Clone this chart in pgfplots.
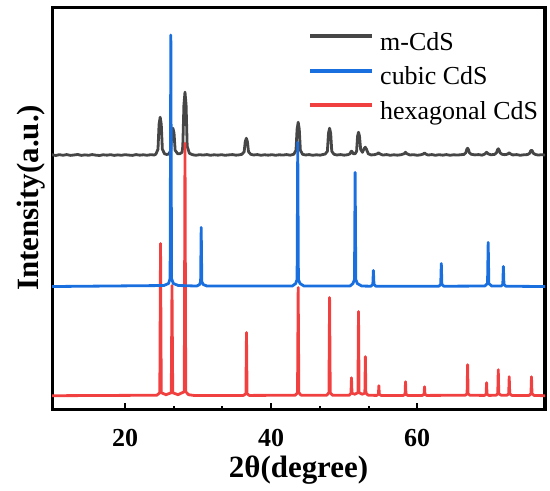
\documentclass[border=0pt]{standalone}
\usepackage{fontspec}
\setmainfont{Liberation Serif}
\usepackage{pgfplots}
\pgfplotsset{compat=1.18}
\definecolor{cgray}{RGB}{70,70,70}
\definecolor{cblue}{RGB}{26,111,223}
\definecolor{cred}{RGB}{241,64,64}
\begin{document}
\begin{tikzpicture}
\begin{axis}[
  name=ax,
  scale only axis,
  width=492bp, height=401.5bp,
  xmin=10, xmax=77.5, ymin=0, ymax=401.5,
  xtick={20,40,60},
  minor x tick num=2,
  ytick=\empty,
  xtick pos=bottom,
  tick align=inside,
  major tick length=7bp,
  minor tick length=3.5bp,
  every tick/.style={black, line width=2bp},
  axis line style={line width=3bp, black},
  /pgf/number format/assume math mode=true,
  xticklabel style={font=\fontsize{26}{26}\selectfont\bfseries, inner sep=0pt, anchor=north, yshift=-19bp},
  xlabel={2θ(degree)},
  xlabel style={font=\fontsize{31}{31}\selectfont\bfseries, inner sep=0pt, anchor=north, at={(axis description cs:0.5,-0.1146)}},
  ylabel={Intensity(a.u.)},
  ylabel style={font=\fontsize{31}{31}\selectfont\bfseries, inner sep=0pt, anchor=south, at={(axis description cs:-0.013,0.527)}},
  legend image code/.code={\draw[#1, line width=4bp, line cap=butt] (0bp,8bp) -- (62bp,8bp);},
  legend style={draw=none, fill=none, inner sep=0pt, anchor=north west,
    at={(axis description cs:0.519,0.9365)},
    font=\fontsize{26}{26}\selectfont,
    nodes={inner sep=0pt, text height=17bp, text depth=5bp},
    row sep=12.5bp, column sep=6bp},
  legend cell align=left,
  every axis plot/.append style={line width=2.8bp, line join=round, line cap=round},
]
% m-CdS
\addplot[cgray, forget plot] coordinates {
(10,254.5)(10.5,253.8)(11,254.6)(11.5,254.0)(12,254.7)(12.5,253.9)(13,254.3)(13.5,254.8)(14,253.9)(14.5,254.4)
(15,254.0)(15.5,254.7)(16,254.1)(16.5,253.8)(17,254.5)(17.5,254.1)(18,254.6)(18.5,253.9)(19,254.4)(19.5,254.0)
(20,254.6)(20.5,254.2)(21,253.9)(21.5,254.7)(22,254.1)(22.5,254.5)(23,254.0)(23.5,254.6)(24,254.3)
(24.2,255)(24.5,260)(24.65,285)(24.8,292)(24.95,285)(25.1,260)(25.4,255.5)
(25.7,254.8)(26.0,255.3)
(26.25,259)(26.4,276)(26.55,281)(26.7,276)(26.85,259)(27.2,255.5)
(27.5,255.5)(27.8,257)
(27.9,263)(28.05,304)(28.2,317)(28.35,304)(28.5,263)(28.8,256)
(29.2,254.6)(29.7,254.0)(30.2,254.6)(30.7,254.2)(31.2,254.7)(31.7,254.0)(32.2,254.5)(32.7,254.1)(33.2,254.6)(33.7,254.0)
(34.2,254.4)(34.7,254.7)(35.2,254.1)(35.7,254.5)(36.0,255)
(36.3,257.5)(36.45,267.5)(36.6,271)(36.75,267.5)(36.9,257.5)(37.2,255)
(37.6,254.3)(38.1,254.7)(38.6,254.0)(39.1,254.5)(39.6,254.1)(40.1,254.6)(40.6,254.0)(41.1,254.5)(41.6,254.2)(42.1,254.7)(42.6,254.1)(43.1,255)
(43.4,259)(43.55,280)(43.7,287)(43.85,280)(44.0,259)(44.3,255)
(44.7,254.3)(45.2,254.7)(45.7,254.0)(46.2,254.5)(46.7,254.1)(47.1,254.8)(47.4,255.2)
(47.7,258)(47.85,276)(48.0,281)(48.15,276)(48.3,258)(48.6,255)
(49.0,254.3)(49.5,254.7)(50.0,254.1)(50.5,254.6)
(50.8,255.5)(50.95,258)(51.05,258)(51.25,255.5)
(51.5,255.5)
(51.7,258)(51.83,273)(51.96,277)(52.1,273)(52.25,260)
(52.5,257)(52.75,261)(52.9,262)(53.05,260)(53.3,255.5)
(53.7,254.3)(54.2,254.7)
(54.55,255.5)(54.7,256.5)(54.85,255.5)
(55.3,254.2)(55.8,254.7)(56.3,254.0)(56.8,254.5)(57.3,254.1)(57.8,254.6)
(58.2,255.5)(58.4,257)(58.6,255.5)
(59.0,254.3)(59.5,254.6)(60.0,254.0)(60.5,254.5)
(60.85,255.3)(61.0,256.3)(61.15,255.3)
(61.5,254.2)(62.0,254.7)(62.5,254.0)(63.0,254.6)(63.5,254.1)(64.0,254.7)(64.5,254.0)(65.0,254.5)(65.5,254.2)(66.0,254.6)(66.4,254.8)
(66.65,256.5)(66.8,260)(66.9,261)(67.0,260)(67.15,256.5)(67.4,255)
(67.9,254.4)(68.4,254.7)(68.9,254.1)
(69.3,255.5)(69.5,257)(69.7,255.5)
(70.1,254.5)(70.6,254.9)
(70.85,256.5)(71.0,259.5)(71.1,260.5)(71.2,259.5)(71.35,256.5)(71.6,255)
(72.0,254.6)(72.3,255)
(72.45,255.5)(72.6,256.5)(72.75,255.5)
(73.1,254.3)(73.6,254.7)(74.1,254.0)(74.6,254.5)(75.1,254.7)
(75.4,256)(75.55,258.5)(75.65,259)(75.75,258.5)(75.9,256)(76.2,254.8)
(76.6,254.2)(77.0,254.6)(77.5,254.2)
};
% hexagonal CdS
\addplot[cred, forget plot] coordinates {
(10,14)(24.35,14.5)(24.75,17)(24.85,166)(24.95,17)(25.6,15)
(26.32,17)(26.42,124)(26.52,17)(27.25,15)
(28.1,18)(28.2,266)(28.3,18)(28.7,15)(29.5,14.2)
(36.2,14.3)(36.54,16)(36.62,77)(36.7,16)(37.0,14.3)
(43.3,14.5)(43.61,17)(43.7,122)(43.79,17)(44.1,14.5)
(47.6,14.5)(47.91,17)(48.0,112)(48.09,17)(48.4,14.5)
(50.7,14.5)(50.93,16.5)(51.0,32)(51.07,16.5)(51.45,15.5)
(51.88,17)(51.96,98)(52.04,17)(52.45,15.5)
(52.83,16.5)(52.9,53)(52.97,16.5)(53.3,14.5)
(54.45,14.3)(54.69,15.5)(54.75,24)(54.81,15.5)(55.05,14.3)
(58.1,14.3)(58.34,15.5)(58.4,28)(58.46,15.5)(58.7,14.3)
(60.7,14.3)(60.94,15.5)(61.0,23)(61.06,15.5)(61.3,14.3)
(66.6,14.5)(66.83,16)(66.9,45)(66.97,16)(67.2,14.5)
(69.2,14.3)(69.44,15.5)(69.5,27)(69.56,15.5)(69.8,14.3)
(70.8,14.5)(71.03,16)(71.1,40)(71.17,16)(71.5,14.5)
(72.3,14.5)(72.53,16)(72.6,33)(72.67,16)(72.95,14.3)
(75.35,14.3)(75.58,16)(75.65,33)(75.72,16)(76.0,14.3)
(77.5,14)
};
% cubic CdS
\addplot[cblue, forget plot] coordinates {
(10,123)
(25.3,124)(25.95,126)(26.16,131)(26.26,374)(26.36,131)(26.6,126)(27.3,124)
(29.8,123.5)(30.2,125)(30.34,128)(30.42,182)(30.5,128)(30.7,125)(31.2,123.5)
(42.9,123.5)(43.35,126)(43.55,130)(43.64,267)(43.73,130)(43.95,126)(44.5,123.5)
(50.8,123.5)(51.2,126)(51.41,130)(51.5,237)(51.59,130)(51.8,126)(52.4,123.5)
(53.65,123.3)(53.92,125)(54.0,139)(54.08,125)(54.35,123.3)
(62.95,123.3)(63.22,125)(63.3,146)(63.38,125)(63.65,123.3)
(69.25,123.5)(69.63,126)(69.72,167)(69.81,126)(70.2,123.5)
(71.5,123.5)(71.72,125)(71.8,143)(71.88,125)(72.15,123.3)
(77.5,123)
};
\addlegendimage{cgray}
\addlegendentry{m-CdS}
\addlegendimage{cblue}
\addlegendentry{cubic CdS}
\addlegendimage{cred}
\addlegendentry{hexagonal CdS}
\end{axis}
\path (ax.south west) ++(-52bp,-81bp) coordinate (bl);
\path (ax.north east) ++(5bp,7.5bp) coordinate (tr);
\path (bl) rectangle (tr);
\end{tikzpicture}
\end{document}
